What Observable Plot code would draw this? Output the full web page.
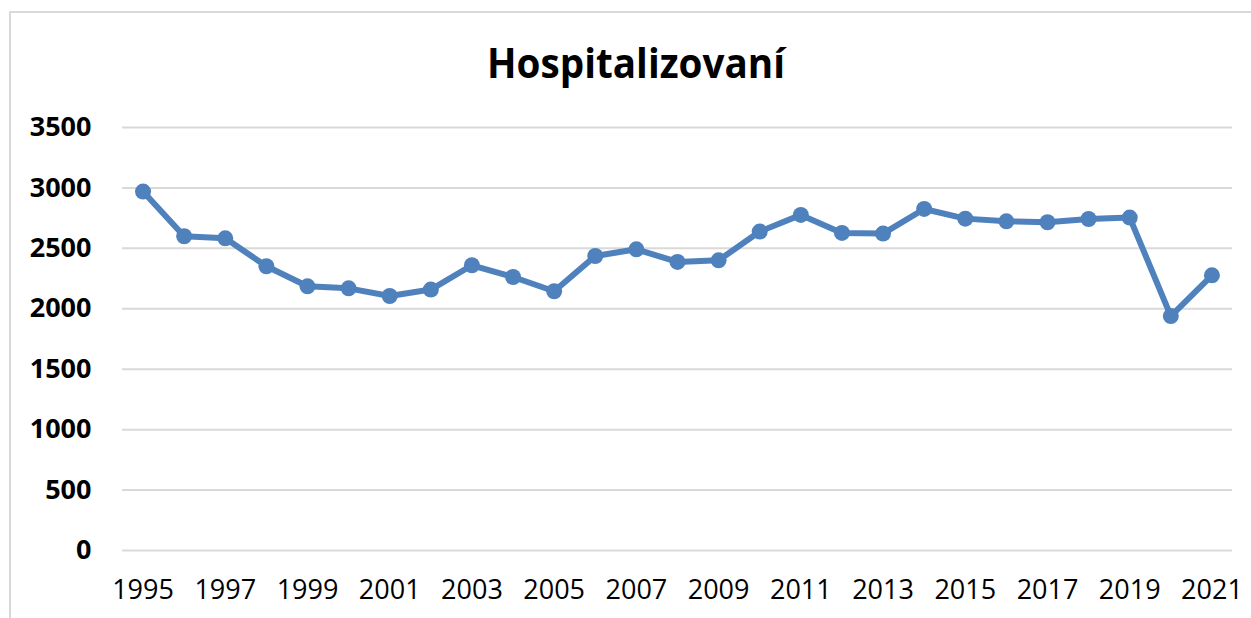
<!DOCTYPE html>
<html>
<head>
<meta charset="utf-8">
<script src="https://cdn.jsdelivr.net/npm/d3@7"></script>
<script src="https://cdn.jsdelivr.net/npm/@observablehq/plot@0.6"></script>
<style>
  html, body { margin: 0; padding: 0; background: #fff; }
  #wrap { position: relative; width: 1251px; height: 618px; overflow: hidden; }
  #frame { position: absolute; left: 9px; top: 11px; width: 1300px; height: 700px; border: 2px solid #d9d9d9; box-sizing: border-box; }
  #title { position: absolute; left: 0; top: 0; }
  #chart { position: absolute; left: 0; top: 0; }
</style>
</head>
<body>
<div id="wrap">
  <div id="frame"></div>
  <div id="chart"></div>
  <svg id="title" width="1251" height="100">
    <text x="636" y="78" text-anchor="middle" font-family="Open Sans" font-weight="bold" font-size="42" fill="#000" textLength="298" lengthAdjust="spacingAndGlyphs">Hospitalizovaní</text>
  </svg>
</div>
<script>
const years = [1995,1996,1997,1998,1999,2000,2001,2002,2003,2004,2005,2006,2007,2008,2009,2010,2011,2012,2013,2014,2015,2016,2017,2018,2019,2020,2021];
const values = [2970,2600,2583,2352,2186,2169,2106,2159,2360,2263,2145,2437,2492,2388,2401,2639,2777,2628,2622,2826,2746,2724,2716,2743,2755,1940,2277];
const xTickLabels = [1995,1997,1999,2001,2003,2005,2007,2009,2011,2013,2015,2017,2019,2021];
const yTicks = [0,500,1000,1500,2000,2500,3000,3500];

const data = years.map((y, i) => ({year: y, value: values[i]}));
const blue = "#4f81bd";

const chart = Plot.plot({
  width: 1251,
  height: 618,
  marginLeft: 122,
  marginRight: 19,
  marginTop: 127,
  marginBottom: 68,
  style: {background: "transparent", fontFamily: "Open Sans"},
  x: {domain: [1994.5, 2021.5]},
  y: {domain: [0, 3500]},
  marks: [
    Plot.gridY(yTicks, {stroke: "#d9d9d9", strokeOpacity: 1, strokeWidth: 2}),
    Plot.axisY(yTicks, {tickSize: 0, tickPadding: 31, fontSize: 27, fontWeight: "bold", fill: "#000", label: null, tickFormat: d => String(d)}),
    Plot.axisX(xTickLabels, {tickSize: 0, tickPadding: 29, fontSize: 27, fill: "#000", label: null, tickFormat: d => String(d)}),
    Plot.line(data, {x: "year", y: "value", stroke: blue, strokeWidth: 6, strokeLinejoin: "round"}),
    Plot.dot(data, {x: "year", y: "value", r: 8, fill: blue, stroke: "none"})
  ]
});
document.getElementById("chart").appendChild(chart);
</script>
</body>
</html>
